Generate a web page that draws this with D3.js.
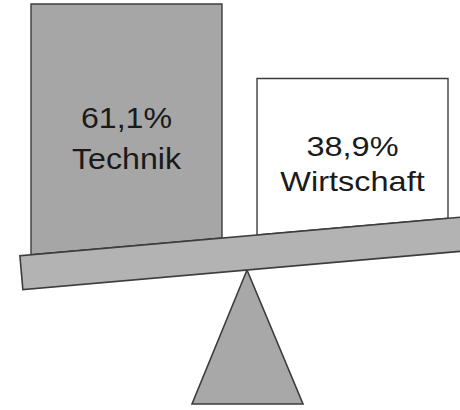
<!DOCTYPE html>
<html>
<head>
<meta charset="utf-8">
<script src="https://cdn.jsdelivr.net/npm/d3@7"></script>
<style>
  html, body { margin: 0; padding: 0; background: #fff; }
  svg { display: block; }
</style>
</head>
<body>
<svg id="chart" width="460" height="410"></svg>
<script>
// ---- data ----
const categories = ["Technik", "Wirtschaft"];
const values = [61.1, 38.9];
const valueLabels = ["61,1%", "38,9%"];

// ---- styles ----
const boxFills = ["#a6a6a6", "#ffffff"];
const fontSizes = [29.5, 28];
const stretchX = [1.09, 1.16];
const lineGaps = [41, 35];
const stroke = "#3c3c3c";

const svg = d3.select("#chart");

// balance geometry
const pivot = { x: 247, y: 270 };
const tiltDeg = -5;
const slope = Math.tan(tiltDeg * Math.PI / 180);
const beamThick = 34;
const beamHalf = 225;
const beamTopAtPivot = pivot.y - beamThick / Math.cos(tiltDeg * Math.PI / 180);
const beamTop = x => beamTopAtPivot + slope * (x - pivot.x);

const x = d3.scaleBand().domain(categories).range([31, 448]).paddingInner(0.155).paddingOuter(0);
const y = d3.scaleLinear().domain([0, d3.max(values)]).range([209, 4]);

const data = categories.map((c, i) => ({ c, v: values[i], label: valueLabels[i], i }));

const boxes = svg.append("g").selectAll("g").data(data).join("g");
boxes.append("path")
  .attr("d", d => {
    const x0 = x(d.c), x1 = x(d.c) + x.bandwidth(), t = y(d.v);
    return `M${x0},${beamTop(x0)}L${x0},${t}L${x1},${t}L${x1},${beamTop(x1)}Z`;
  })
  .attr("fill", d => boxFills[d.i])
  .attr("stroke", stroke)
  .attr("stroke-width", 1.4);

boxes.each(function(d) {
  const g = d3.select(this);
  const cx = x(d.c) + x.bandwidth() / 2;
  const t = y(d.v);
  const b = beamTop(cx);
  const mid = (t + b) / 2;
  const base1 = mid + 3;
  const txt = g.append("text")
    .attr("transform", `translate(${cx},0) scale(${stretchX[d.i]},1)`)
    .attr("text-anchor", "middle")
    .attr("font-family", "Liberation Sans, Arial, sans-serif")
    .attr("font-size", fontSizes[d.i])
    .attr("fill", "#1a1a1a");
  txt.append("tspan").attr("x", 0).attr("y", base1).text(d.label);
  txt.append("tspan").attr("x", 0).attr("y", base1 + lineGaps[d.i]).text(d.c);
});

// fulcrum
svg.append("path")
  .attr("d", `M${pivot.x},${pivot.y}L303,404L192,404Z`)
  .attr("fill", "#a8a8a8")
  .attr("stroke", stroke)
  .attr("stroke-width", 1.6);

// beam
svg.append("g")
  .attr("transform", `translate(${pivot.x},${pivot.y}) rotate(${tiltDeg})`)
  .append("rect")
  .attr("x", -beamHalf)
  .attr("y", -beamThick)
  .attr("width", beamHalf * 2)
  .attr("height", beamThick)
  .attr("fill", "#b3b3b3")
  .attr("stroke", stroke)
  .attr("stroke-width", 1.6);
</script>
</body>
</html>
